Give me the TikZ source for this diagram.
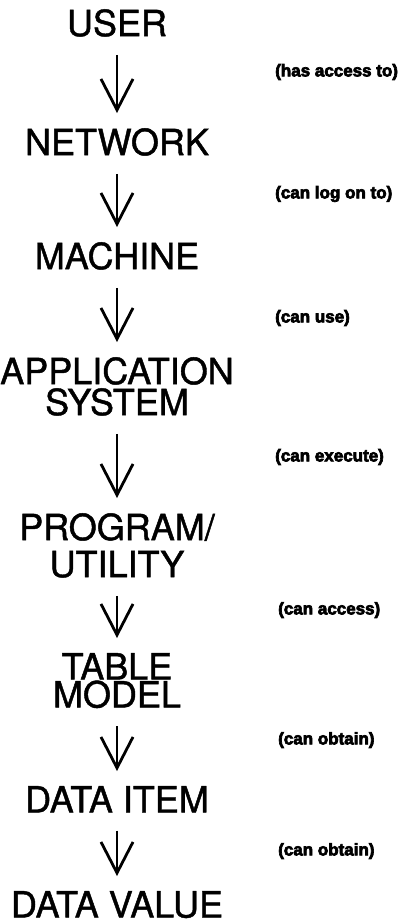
\documentclass[tikz,border=0pt]{standalone}
\usepackage{fontspec}
\setmainfont{TeX Gyre Heros}
\newfontfamily\levelfont[FakeBold=1.2]{TeX Gyre Heros}
\newfontfamily\heavyfont[FakeBold=4]{Liberation Sans Bold}
\usetikzlibrary{arrows.meta}
\begin{document}
\begin{tikzpicture}[x=1pt,y=-1pt,
    level/.style={inner sep=0pt,anchor=north,align=center,font=\levelfont\fontsize{36}{36}\selectfont},
    rel/.style={inner sep=0pt,anchor=west,font=\heavyfont\fontsize{17}{17}\selectfont},
    arr/.style={line width=2.8pt,shorten <=18pt,shorten >=15pt,
      -{Straight Barb[length=31pt,width=32pt,line width=2.8pt]}}]
  \useasboundingbox (0,0) rectangle (406,919);
  \node[level](user) at (117,9){USER};
  \node[level](network) at (117,128){NETWORK};
  \node[level](machine) at (117,242){MACHINE};
  \node[level](appsys) at (117,357){APPLICATION\\[-5pt]SYSTEM};
  \node[level](program) at (117,513){PROGRAM/\\[1pt]UTILITY};
  \node[level](table) at (117,653){TABLE\\[-8pt]MODEL};
  \node[level](item) at (117,786){DATA ITEM};
  \node[level](value) at (117,891){DATA VALUE};
  \node[rel](hasaccess) at (275,72){(has access to)};
  \node[rel](logon) at (275,194){(can log on to)};
  \node[rel](canuse) at (275,318){(can use)};
  \node[rel](execute) at (275,457){(can execute)};
  \node[rel](access) at (278,610){(can access)};
  \node[rel](obtaina) at (278,740){(can obtain)};
  \node[rel](obtainb) at (278,851){(can obtain)};
  \draw[arr] (user) -- (network);
  \draw[arr] (network) -- (machine);
  \draw[arr] (machine) -- (appsys);
  \draw[arr] (appsys) -- (program);
  \draw[arr] (program) -- (table);
  \draw[arr] (table) -- (item);
  \draw[arr] (item) -- (value);
\end{tikzpicture}
\end{document}
